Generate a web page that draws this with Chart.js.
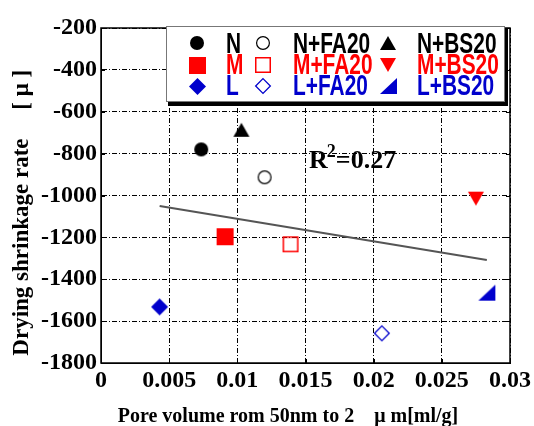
<!DOCTYPE html>
<html>
<head>
<meta charset="utf-8">
<script src="https://cdn.jsdelivr.net/npm/chart.js@4/dist/chart.umd.min.js"></script>
<style>
  html, body { margin: 0; padding: 0; background: #fff; }
  canvas { display: block; }
</style>
</head>
<body>
<canvas id="chart" width="534" height="426"></canvas>
<script>
// Data
const seriesNames = ['N', 'N+FA20', 'N+BS20', 'M', 'M+FA20', 'M+BS20', 'L', 'L+FA20', 'L+BS20'];
const poreVolume = [0.00735, 0.0120, 0.0103, 0.0091, 0.0139, 0.0275, 0.0043, 0.0206, 0.0283];
const shrinkage = [-780, -913, -686, -1197, -1233, -1015, -1532, -1658, -1464];
const trendX = [0.0043, 0.0283];
const trendY = [-1050, -1308];
const xTickValues = [0, 0.005, 0.01, 0.015, 0.02, 0.025, 0.03];
const xTickLabels = ['0', '0.005', '0.01', '0.015', '0.02', '0.025', '0.03'];
const yTickValues = [-1800, -1600, -1400, -1200, -1000, -800, -600, -400, -200];
const rSquaredText = '0.27';

const BLACK = '#000000';
const RED = '#ff0000';
const BLUE = '#0000cc';

// Marker images (drawn once, reused by points and legend)
function makeMarker(shape, w, h, fill, stroke, lw) {
    const c = document.createElement('canvas');
    c.width = w + 2;
    c.height = h + 2;
    const g = c.getContext('2d');
    g.translate(1, 1);
    const i = lw ? lw / 2 : 0;
    g.beginPath();
    if (shape === 'circle') {
        g.arc(w / 2, h / 2, w / 2 - i, 0, Math.PI * 2);
    } else if (shape === 'square') {
        g.rect(i, i, w - 2 * i, h - 2 * i);
    } else if (shape === 'diamond') {
        g.moveTo(w / 2, i); g.lineTo(w - i, h / 2); g.lineTo(w / 2, h - i); g.lineTo(i, h / 2);
    } else if (shape === 'triUp') {
        g.moveTo(w / 2, i); g.lineTo(w - i, h - i); g.lineTo(i, h - i);
    } else if (shape === 'triDown') {
        g.moveTo(i, i); g.lineTo(w - i, i); g.lineTo(w / 2, h - i);
    } else if (shape === 'triRight') {
        g.moveTo(i, h - i); g.lineTo(w - i, h - i); g.lineTo(w - i, i);
    }
    g.closePath();
    if (fill) { g.fillStyle = fill; g.fill(); }
    if (stroke) { g.strokeStyle = stroke; g.lineWidth = lw; g.stroke(); }
    return c;
}

const markers = [
    makeMarker('circle', 14, 14, BLACK),
    makeMarker('circle', 14, 14, null, BLACK, 1.2),
    makeMarker('triUp', 16, 14, BLACK),
    makeMarker('square', 17, 17, RED),
    makeMarker('square', 16, 16, null, RED, 1.5),
    makeMarker('triDown', 16, 14, RED),
    makeMarker('diamond', 17, 17, BLUE),
    makeMarker('diamond', 16, 16, null, BLUE, 1.3),
    makeMarker('triRight', 17, 16, BLUE)
];
const textColors = [BLACK, BLACK, BLACK, RED, RED, RED, BLUE, BLUE, BLUE];

const datasets = seriesNames.map((name, i) => ({
    label: name,
    data: [{ x: poreVolume[i], y: shrinkage[i] }],
    pointStyle: markers[i],
    pointRadius: 8,
    order: 1
}));
datasets.push({
    type: 'line',
    label: 'trend',
    data: trendX.map((x, i) => ({ x: x, y: trendY[i] })),
    borderColor: '#555555',
    borderWidth: 2,
    pointRadius: 0,
    showLine: true,
    fill: false,
    order: 2
});

// Frame with small inward ticks
const framePlugin = {
    id: 'frame',
    beforeDatasetsDraw(chart) {
        const { ctx, chartArea: a, scales } = chart;
        ctx.save();
        ctx.strokeStyle = BLACK;
        ctx.lineWidth = 1.5;
        ctx.strokeRect(a.left, a.top, a.right - a.left, a.bottom - a.top);
        ctx.lineWidth = 1;
        ctx.beginPath();
        yTickValues.forEach(v => {
            const y = Math.round(scales.y.getPixelForValue(v)) + 0.5;
            ctx.moveTo(a.left, y); ctx.lineTo(a.left + 4, y);
            ctx.moveTo(a.right, y); ctx.lineTo(a.right - 4, y);
        });
        xTickValues.forEach(v => {
            const x = Math.round(scales.x.getPixelForValue(v)) + 0.5;
            ctx.moveTo(x, a.bottom); ctx.lineTo(x, a.bottom - 4);
            ctx.moveTo(x, a.top); ctx.lineTo(x, a.top + 4);
        });
        ctx.stroke();
        ctx.restore();
    }
};

// Boxed 3x3 legend and the R^2 note
const legendPlugin = {
    id: 'boxLegend',
    afterDraw(chart) {
        const { ctx, scales } = chart;
        ctx.save();
        // box + shadow
        ctx.fillStyle = '#fff';
        ctx.fillRect(166, 26, 339, 76);
        ctx.strokeStyle = '#777777';
        ctx.lineWidth = 1;
        ctx.strokeRect(166.5, 26.5, 338, 75);
        ctx.fillStyle = BLACK;
        ctx.fillRect(505, 28, 3, 78);
        ctx.fillRect(168, 102, 340, 4);

        const markX = [197, 263, 388];
        const textX = [226, 293, 417];
        const rowY = [43, 65, 86];
        const baseY = [53, 74, 95];
        ctx.font = 'bold 29px "Liberation Sans", Arial, sans-serif';
        ctx.textBaseline = 'alphabetic';
        ctx.textAlign = 'left';
        seriesNames.forEach((name, i) => {
            const r = Math.floor(i / 3), c = i % 3;
            const m = markers[i];
            ctx.drawImage(m, Math.round(markX[c] - m.width / 2), Math.round(rowY[r] - m.height / 2));
            ctx.save();
            ctx.translate(textX[c], baseY[r]);
            ctx.scale(0.72, 1);
            ctx.fillStyle = textColors[i];
            ctx.fillText(name, 0, 0);
            ctx.restore();
        });

        // R^2 note
        const rx = scales.x.getPixelForValue(0.01526);
        const ry = scales.y.getPixelForValue(-869);
        ctx.fillStyle = BLACK;
        ctx.font = 'bold 26px "Liberation Serif", "Times New Roman", serif';
        ctx.fillText('R', rx, ry);
        let w = ctx.measureText('R').width;
        ctx.font = 'bold 18px "Liberation Serif", "Times New Roman", serif';
        ctx.fillText('2', rx + w - 1, ry - 11);
        w += ctx.measureText('2').width - 1;
        ctx.font = 'bold 26px "Liberation Serif", "Times New Roman", serif';
        ctx.fillText('=' + rSquaredText, rx + w, ry);
        ctx.restore();
    }
};

const serif = '"Liberation Serif", "Times New Roman", serif';

new Chart(document.getElementById('chart'), {
    type: 'scatter',
    data: { datasets: datasets },
    options: {
        responsive: false,
        animation: false,
        events: [],
        layout: { padding: { top: 28, right: 22, left: 0, bottom: 0 } },
        plugins: { legend: { display: false }, tooltip: { enabled: false } },
        scales: {
            x: {
                type: 'linear',
                min: 0,
                max: 0.03,
                afterBuildTicks: s => { s.ticks = xTickValues.map(v => ({ value: v })); },
                afterFit: s => { s.height = 63; },
                ticks: {
                    color: BLACK,
                    padding: 3,
                    maxRotation: 0,
                    font: { family: serif, size: 24, weight: 'bold' },
                    callback: (v, i) => xTickLabels[i]
                },
                grid: { color: BLACK, lineWidth: 1, drawTicks: false },
                border: { display: true, color: BLACK, dash: [5, 2, 1, 2] },
                title: {
                    display: true,
                    text: 'Pore volume rom 50nm to 2\u3000\u03bc m[ml/g]       ',
                    color: BLACK,
                    font: { family: serif, size: 20, weight: 'bold', lineHeight: 0.9 },
                    padding: { top: 0, bottom: 0 }
                }
            },
            y: {
                type: 'linear',
                min: -1800,
                max: -200,
                afterBuildTicks: s => { s.ticks = yTickValues.map(v => ({ value: v })); },
                afterFit: s => { s.width = 101; },
                ticks: {
                    color: BLACK,
                    padding: 4,
                    font: { family: serif, size: 24, weight: 'bold' },
                    callback: v => String(v)
                },
                grid: { color: BLACK, lineWidth: 1, drawTicks: false },
                border: { display: true, color: BLACK, dash: [5, 2, 1, 2] },
                title: {
                    display: true,
                    text: 'Drying shrinkage rate     [ \u03bc ]      ',
                    color: BLACK,
                    font: { family: serif, size: 23, weight: 'bold', lineHeight: 1.2 },
                    padding: { top: 8, bottom: 0 }
                }
            }
        }
    },
    plugins: [framePlugin, legendPlugin]
});
</script>
</body>
</html>
